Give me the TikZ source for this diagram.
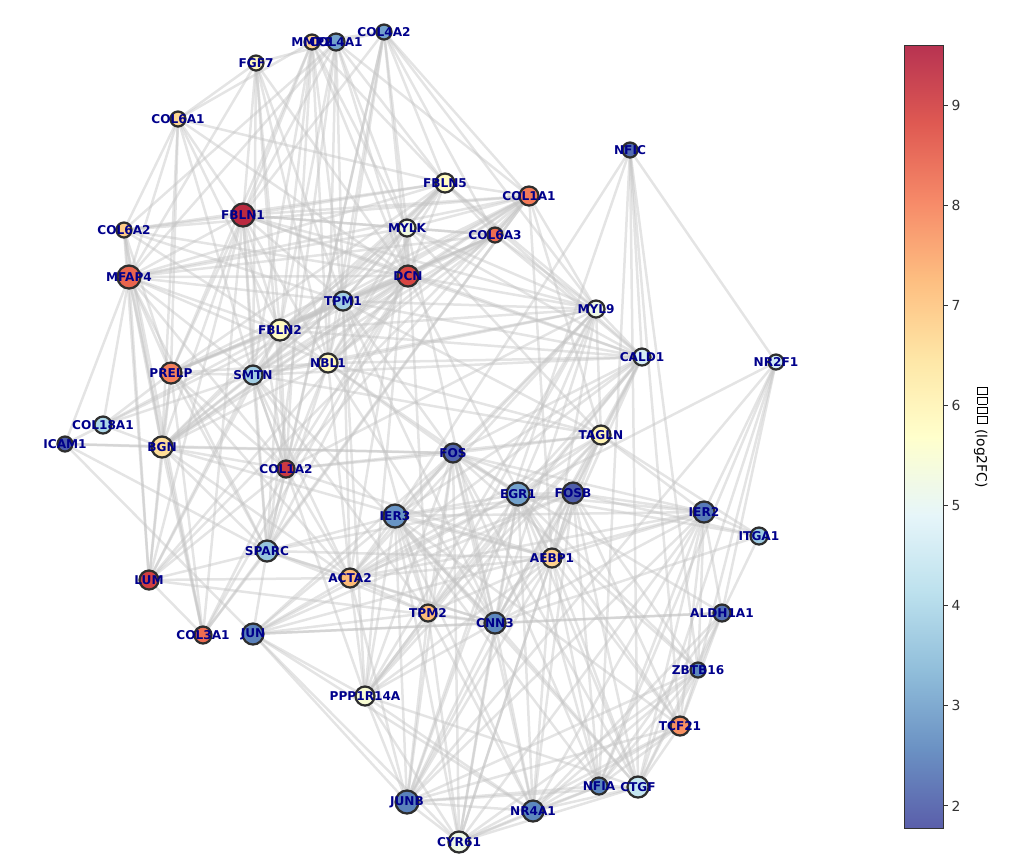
\documentclass[tikz,border=0pt]{standalone}
\usepackage{fontspec}
\setmainfont{DejaVu Sans}
\usetikzlibrary{backgrounds}

\definecolor{cb0}{RGB}{49,54,149}
\definecolor{cb1}{RGB}{69,117,180}
\definecolor{cb2}{RGB}{116,173,209}
\definecolor{cb3}{RGB}{171,217,233}
\definecolor{cb4}{RGB}{224,243,248}
\definecolor{cb5}{RGB}{255,255,191}
\definecolor{cb6}{RGB}{254,224,144}
\definecolor{cb7}{RGB}{253,174,97}
\definecolor{cb8}{RGB}{244,109,67}
\definecolor{cb9}{RGB}{215,48,39}
\definecolor{cb10}{RGB}{165,0,38}
\definecolor{lblblue}{RGB}{0,0,139}
\definecolor{edgegray}{RGB}{195,195,195}

\newcommand\setval[1]{%
  \pgfmathsetmacro\cbt{10*max(0,min(0.9999,(#1-1.78)/7.82))}%
  \pgfmathtruncatemacro\cbi{floor(\cbt)}%
  \pgfmathtruncatemacro\cbj{\cbi+1}%
  \pgfmathtruncatemacro\cbf{round(100*(\cbt-\cbi))}%
  \colorlet{nodefill}{cb\cbj!\cbf!cb\cbi}%
  \colorlet{nodefill}{nodefill!88!white}}
\newcommand\tofu{\kern0.08em\vbox{\hrule height0.06em\hbox{\vrule width0.06em height0.7em\kern0.42em\vrule width0.06em}\hrule height0.06em}\kern0.08em}

\tikzset{
  gene/.style={circle, inner sep=0pt, draw=black!82, line width=0.045cm},
  glabel/.style={font=\fontsize{6.9}{8}\selectfont\bfseries, text=lblblue, inner sep=0pt},
  link/.style={draw=edgegray, opacity=0.45, line width=0.05cm},
  cbtick/.style={font=\fontsize{7.9}{9}\selectfont, anchor=west, inner sep=0pt}
}

\def\genelist{MMP2/312/42/6.8/7, COL4A1/336/42/3.0/8, COL4A2/384/32/3.0/7, FGF7/256/63/5.9/7,
  COL6A1/178/119/6.7/7, COL6A2/124/230/6.9/7, FBLN1/243/215/9.4/11, MFAP4/129/277/8.4/11,
  FBLN5/445/183/5.8/9, COL1A1/529/196/8.1/9, MYLK/407/228/5.3/8, COL6A3/495/235/8.3/7,
  DCN/408/276/8.9/10, NFIC/630/150/2.2/7, CALD1/642/357/4.7/8, NR2F1/776/362/4.6/7,
  MYL9/596/309/5.2/8, FBLN2/280/330/5.8/10, PRELP/171/373/8.0/10, SMTN/253/375/3.8/9,
  NBL1/328/363/5.9/9, COL18A1/103/425/4.0/8, ICAM1/65/444/2.0/7, BGN/162/447/6.6/10,
  COL1A2/286/469/9.1/8, SPARC/267/551/3.6/10, TPM1/343/301/3.8/9, LUM/149/580/9.0/9,
  ACTA2/350/578/7.2/9, TPM2/428/613/7.2/8, COL3A1/203/635/8.3/8, JUN/253/634/2.5/10,
  PPP1R14A/365/696/5.5/9, JUNB/407/802/2.5/11, FOS/453/453/2.1/9, EGR1/518/494/3.0/11,
  FOSB/573/493/2.0/10, IER3/395/516/2.8/11, TAGLN/601/435/6.0/9, AEBP1/552/558/6.8/9,
  IER2/704/512/2.4/10, ITGA1/759/536/3.7/8, ALDH1A1/722/613/2.3/8, ZBTB16/698/670/2.6/7,
  CNN3/495/623/2.6/10, TCF21/680/726/7.8/9, NFIA/599/786/2.6/8, CTGF/638/787/4.4/10,
  NR4A1/533/811/2.6/10, CYR61/459/842/5.2/10}

\begin{document}
\begin{tikzpicture}[x=0.02cm,y=-0.02cm]
\useasboundingbox (0,0) rectangle (1011,860);

\foreach \g/\x/\y/\v/\r in \genelist {
  \setval{\v}
  \node[gene, fill=nodefill, minimum size=0.04cm*\r+0.02cm] (\g) at (\x,\y) {};
}

\begin{scope}[on background layer]
\foreach \a/\bs in {
  MMP2/{COL4A1,COL4A2,COL6A1,FBLN1,DCN,FBLN2,TPM1,NBL1,SMTN,COL1A2,PRELP,FBLN5,MYLK},
  COL4A1/{COL4A2,FGF7,FBLN1,DCN,MYLK,FBLN5,COL1A1,TPM1,NBL1,SPARC,COL6A2,MFAP4,FBLN2},
  COL4A2/{FBLN5,COL1A1,COL6A3,DCN,MYLK,TPM1,NBL1,SPARC,FBLN1,COL1A2,MYL9},
  FGF7/{COL6A1,FBLN2,NBL1,TPM1,DCN,SMTN,COL1A2,MFAP4,FBLN1},
  COL6A1/{COL6A2,MFAP4,FBLN1,PRELP,BGN,FBLN2,SMTN,DCN,FBLN5},
  COL6A2/{FBLN1,MFAP4,PRELP,BGN,LUM,COL3A1,FBLN5,COL1A1,DCN,TPM1,FBLN2},
  FBLN1/{MFAP4,PRELP,BGN,LUM,COL3A1,FBLN2,SMTN,NBL1,DCN,MYLK,FBLN5,COL1A1,COL6A3,TPM1,COL1A2,SPARC,MYL9,CALD1},
  MFAP4/{PRELP,BGN,LUM,COL3A1,COL18A1,ICAM1,FBLN2,SMTN,DCN,MYLK,TPM1,NBL1,COL1A2,SPARC,FBLN5,COL1A1,COL6A3},
  FBLN5/{COL1A1,MYLK,DCN,COL6A3,TPM1,FBLN2,NBL1,PRELP,SMTN,MYL9,CALD1,BGN},
  COL1A1/{COL6A3,DCN,MYLK,TPM1,NBL1,FBLN2,COL1A2,MYL9,TAGLN,SPARC,PRELP,BGN,LUM,COL3A1,AEBP1},
  COL6A3/{DCN,MYLK,TPM1,NBL1,FBLN2,SMTN,PRELP,BGN,MYL9,CALD1},
  MYLK/{DCN,TPM1,NBL1,FBLN2,SMTN,MYL9,CALD1,TAGLN,ACTA2,CNN3,TPM2,PPP1R14A},
  DCN/{TPM1,FBLN2,NBL1,SMTN,PRELP,BGN,LUM,COL1A2,SPARC,COL3A1,MYL9,CALD1,AEBP1,COL18A1},
  TPM1/{FBLN2,NBL1,SMTN,MYL9,CALD1,TAGLN,ACTA2,TPM2,CNN3,PPP1R14A,PRELP,BGN,FOS},
  FBLN2/{NBL1,SMTN,PRELP,BGN,COL1A2,SPARC,LUM,COL18A1,MYL9,CALD1},
  NBL1/{SMTN,PRELP,BGN,COL1A2,SPARC,MYL9,CALD1,TAGLN,ACTA2,CNN3,FOS,EGR1},
  PRELP/{SMTN,BGN,LUM,COL18A1,COL1A2,SPARC,COL3A1,ACTA2},
  SMTN/{BGN,COL1A2,SPARC,MYL9,CALD1,TAGLN,ACTA2,TPM2,CNN3,PPP1R14A,COL18A1,LUM},
  BGN/{COL18A1,ICAM1,LUM,COL3A1,COL1A2,SPARC,ACTA2,FOS,AEBP1},
  COL1A2/{SPARC,LUM,COL3A1,ACTA2,AEBP1,TAGLN,MYL9,FOS},
  SPARC/{LUM,COL3A1,ACTA2,TPM2,JUN,AEBP1,CNN3,IER3,FOSB},
  ICAM1/{COL18A1,JUN,SPARC,FOS},
  LUM/{COL3A1,ACTA2,CNN3},
  MYL9/{CALD1,TAGLN,ACTA2,TPM2,CNN3,PPP1R14A,FOS,EGR1,IER3,AEBP1},
  CALD1/{TAGLN,ACTA2,TPM2,CNN3,PPP1R14A,FOSB,EGR1,FOS,IER3,NFIC,AEBP1},
  TAGLN/{ACTA2,TPM2,CNN3,PPP1R14A,FOSB,EGR1,IER2,ITGA1,FOS,AEBP1},
  ACTA2/{TPM2,CNN3,PPP1R14A,FOS,IER3,EGR1,FOSB,JUN,JUNB,AEBP1,IER2},
  TPM2/{CNN3,PPP1R14A,AEBP1,JUN,JUNB,FOS,IER3,NR4A1,CYR61},
  CNN3/{PPP1R14A,AEBP1,JUN,JUNB,NR4A1,CYR61,CTGF,IER2,ALDH1A1,FOS,EGR1,FOSB,IER3,ITGA1},
  PPP1R14A/{JUN,JUNB,AEBP1,IER3,NR4A1,CYR61,FOS,EGR1,CTGF},
  FOS/{FOSB,EGR1,IER3,IER2,JUN,JUNB,NR4A1,CYR61,CTGF,ZBTB16,ALDH1A1,NFIA},
  FOSB/{EGR1,IER3,IER2,JUN,JUNB,NR4A1,CYR61,CTGF,ZBTB16,TCF21,NFIA,AEBP1,ITGA1},
  EGR1/{IER3,IER2,JUN,JUNB,NR4A1,CYR61,CTGF,NFIA,ZBTB16,TCF21,AEBP1,NR2F1,ITGA1},
  IER3/{IER2,JUN,JUNB,NR4A1,CYR61,CTGF,AEBP1,NFIA,TCF21,NFIC},
  IER2/{JUNB,NR4A1,CYR61,CTGF,NFIA,ZBTB16,ALDH1A1,ITGA1,TCF21,NR2F1,AEBP1},
  JUN/{JUNB,NR4A1,CYR61,IER2,ALDH1A1},
  JUNB/{NR4A1,CYR61,CTGF,NFIA,TCF21,ZBTB16,NR2F1,AEBP1,NFIC},
  NR4A1/{CYR61,CTGF,NFIA,TCF21,ZBTB16,ALDH1A1},
  CYR61/{CTGF,NFIA,TCF21,ZBTB16},
  CTGF/{NFIA,TCF21,ZBTB16,ALDH1A1,NFIC,NR2F1},
  NFIA/{TCF21,ZBTB16,ALDH1A1,NFIC,NR2F1},
  TCF21/{ZBTB16,ALDH1A1,NFIC},
  ZBTB16/{ALDH1A1,NFIC,NR2F1},
  ALDH1A1/{NR2F1,ITGA1},
  NFIC/{NR2F1},
  AEBP1/{NR4A1,CYR61,CTGF,NFIA,TCF21}}
  \foreach \b in \bs
    \draw[link] (\a.center) -- (\b.center);
\end{scope}

\foreach \g/\x/\y/\v/\r in \genelist
  \node[glabel] at (\x,\y) {\g};

\foreach \k [evaluate=\k as \kk using int(\k+1)] in {0,...,9}
  \shade[bottom color=cb\k!80!white, top color=cb\kk!80!white]
    (904,{828-78.3*\k+0.5}) rectangle (943,{828-78.3*(\k+1)});
\draw[black!80, line width=0.02cm] (904,45) rectangle (943,828);
\foreach \t in {2,...,9}
  \draw[black!80, line width=0.02cm] (943,{828-100.13*(\t-1.78)}) -- (948,{828-100.13*(\t-1.78)})
    node[cbtick, xshift=0.06cm] {\t};
\node[rotate=-90, font=\fontsize{7.9}{9}\selectfont] (cblabel) at (981,437) {\tofu\tofu\tofu\tofu\ (log2FC)};
\end{tikzpicture}
\end{document}
